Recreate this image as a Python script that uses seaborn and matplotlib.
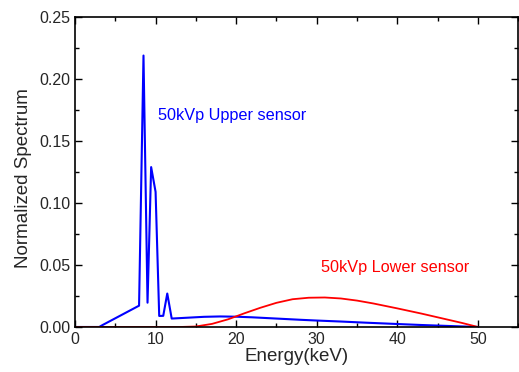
import matplotlib
matplotlib.use("Agg")
import matplotlib.pyplot as plt
import seaborn as sns
import pandas as pd
from matplotlib.ticker import MultipleLocator, FormatStrFormatter

upper_energy = [0, 3.0, 3.4, 7.95, 8.5, 9.0, 9.45, 10.0, 10.45, 10.95, 11.45, 12.0,
                14, 16, 18, 20, 22, 25, 28, 30, 33, 36, 40, 43, 46, 50]
upper_spec = [0, 0, 0.0015, 0.0172, 0.219, 0.0196, 0.129, 0.109, 0.0089, 0.009, 0.027, 0.0068,
              0.0075, 0.0082, 0.0085, 0.0083, 0.0078, 0.0068, 0.0058, 0.0052, 0.0044, 0.0035,
              0.0024, 0.0016, 0.0009, 0.0]
lower_energy = [0, 13, 15, 17, 19, 21, 23, 25, 27, 29, 31, 33, 35, 37, 40, 43, 46, 48, 50]
lower_spec = [0, 0, 0.0004, 0.0025, 0.0062, 0.0110, 0.0155, 0.0195, 0.0224, 0.0236, 0.0238,
              0.0230, 0.0213, 0.0190, 0.0150, 0.0108, 0.0063, 0.0033, 0.0]

sns.set_style("ticks")
plt.rcParams["font.family"] = ["Liberation Sans", "DejaVu Sans"]

fig = plt.figure(figsize=(5.19, 3.72), dpi=100)
ax = fig.add_axes([0.1445, 0.121, 0.854, 0.833])

up = pd.DataFrame({"E": upper_energy, "S": upper_spec})
lo = pd.DataFrame({"E": lower_energy, "S": lower_spec})
sns.lineplot(data=up, x="E", y="S", color="#0000ff", lw=1.5, ax=ax)
sns.lineplot(data=lo, x="E", y="S", color="#ff0000", lw=1.3, ax=ax)

ax.set_xlim(0, 55)
ax.set_ylim(0, 0.25)
ax.xaxis.set_major_locator(MultipleLocator(10))
ax.xaxis.set_minor_locator(MultipleLocator(5))
ax.yaxis.set_major_locator(MultipleLocator(0.05))
ax.yaxis.set_minor_locator(MultipleLocator(0.025))
ax.yaxis.set_major_formatter(FormatStrFormatter("%.2f"))
ax.tick_params(which="both", direction="in", top=True, right=True, labelsize=11.5, width=1, color="black")
ax.tick_params(which="major", length=5)
ax.tick_params(which="minor", length=3)
for s in ax.spines.values():
    s.set_visible(True)
    s.set_linewidth(1.2)
    s.set_color("black")

ax.set_xlabel("Energy(keV)", fontsize=13.5, labelpad=1)
ax.set_ylabel("Normalized Spectrum", fontsize=13.5)
ax.yaxis.set_label_coords(-0.097, 0.482)

ax.text(10.3, 0.171, "50kVp Upper sensor", color="#0000ff", fontsize=11.7, va="center")
ax.text(30.5, 0.048, "50kVp Lower sensor", color="#ff0000", fontsize=11.7, va="center")

fig.savefig("out.png", dpi=100)
